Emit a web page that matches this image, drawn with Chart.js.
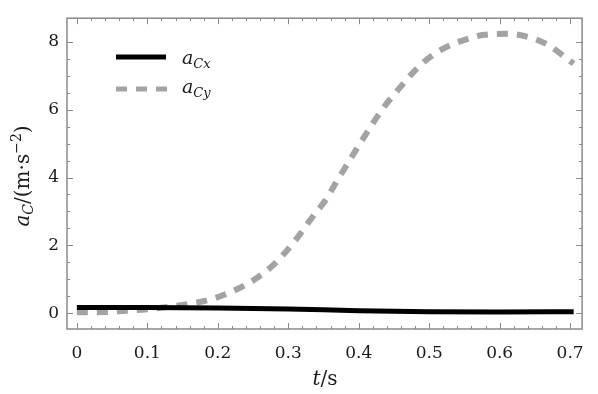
<!DOCTYPE html>
<html>
<head>
<meta charset="utf-8">
<script src="https://cdn.jsdelivr.net/npm/chart.js@4.4.0/dist/chart.umd.min.js"></script>
<style>
  html, body { margin: 0; padding: 0; background: #fff; }
  #wrap { width: 598px; height: 394px; }
</style>
</head>
<body>
<div id="wrap"><canvas id="chart" width="598" height="394"></canvas></div>
<script>
// ================== DATA ==================
const tCy = [0, 0.04, 0.07, 0.10, 0.133, 0.163, 0.193, 0.224, 0.25, 0.276, 0.296, 0.313, 0.333,
  0.354, 0.368, 0.384, 0.40, 0.416, 0.433, 0.453, 0.473, 0.494, 0.518, 0.547, 0.578, 0.61,
  0.64, 0.668, 0.695, 0.705];
const aCy = [0.03, 0.04, 0.08, 0.12, 0.2, 0.29, 0.43, 0.68, 0.97, 1.37, 1.8, 2.23, 2.8,
  3.37, 3.86, 4.4, 4.94, 5.46, 6.0, 6.51, 7.0, 7.43, 7.77, 8.03, 8.2, 8.23,
  8.14, 7.91, 7.51, 7.35];
const tCx = [0, 0.1, 0.2, 0.3, 0.4, 0.5, 0.6, 0.705];
const aCx = [0.17, 0.17, 0.16, 0.13, 0.08, 0.05, 0.04, 0.05];

const xTicks = [0, 0.1, 0.2, 0.3, 0.4, 0.5, 0.6, 0.7];
const yTicks = [0, 2, 4, 6, 8];

const FONT = "'DejaVu Serif', serif";
const FRAME = "#8a8a8a";

// ================== HELPERS ==================
function toPoints(xs, ys) {
  return xs.map((x, i) => ({ x, y: ys[i] }));
}

// draw a run of text pieces: [text, italic, size, dy]
function drawRich(ctx, parts, x, y, align) {
  let total = 0;
  parts.forEach(p => {
    ctx.font = (p[1] ? "italic " : "") + p[2] + "px " + FONT;
    total += ctx.measureText(p[0]).width;
  });
  let cx = align === "center" ? x - total / 2 : x;
  ctx.textAlign = "left";
  ctx.textBaseline = "alphabetic";
  parts.forEach(p => {
    ctx.font = (p[1] ? "italic " : "") + p[2] + "px " + FONT;
    ctx.fillText(p[0], cx, y + (p[3] || 0));
    cx += ctx.measureText(p[0]).width;
  });
}

// ================== FRAME / TICKS / TITLES / LEGEND ==================
const decor = {
  id: "decor",
  afterDatasetsDraw(chart) {
    const { ctx, chartArea: a, scales } = chart;
    const xs = scales.x, ys = scales.y;
    ctx.save();
    ctx.strokeStyle = FRAME;
    ctx.lineWidth = 1.5;
    ctx.strokeRect(a.left, a.top, a.right - a.left, a.bottom - a.top);

    ctx.lineWidth = 1;
    ctx.beginPath();
    for (let v = 0; v <= 0.7001; v += 0.02) {
      const px = Math.round(xs.getPixelForValue(v)) + 0.5;
      const major = Math.abs(v * 10 - Math.round(v * 10)) < 1e-6;
      const len = major ? 6 : 3;
      ctx.moveTo(px, a.bottom); ctx.lineTo(px, a.bottom - len);
      ctx.moveTo(px, a.top); ctx.lineTo(px, a.top + len);
    }
    for (let v = 0; v <= 8.001; v += 0.5) {
      const py = Math.round(ys.getPixelForValue(v)) + 0.5;
      const major = Math.abs(v / 2 - Math.round(v / 2)) < 1e-6;
      const len = major ? 6 : 3;
      ctx.moveTo(a.left, py); ctx.lineTo(a.left + len, py);
      ctx.moveTo(a.right, py); ctx.lineTo(a.right - len, py);
    }
    ctx.stroke();

    ctx.fillStyle = "#1a1a1a";
    // x title
    drawRich(ctx, [["t", true, 20], ["/s", false, 20]], 325, 385, "center");
    // y title
    ctx.save();
    ctx.translate(29, 176);
    ctx.rotate(-Math.PI / 2);
    drawRich(ctx, [["a", true, 20], ["C", true, 14, 4], ["/(m·s", false, 20],
      ["−2", false, 14, -8], [")", false, 20]], 0, 0, "center");
    ctx.restore();

    // legend
    ctx.lineCap = "butt";
    ctx.strokeStyle = "#000";
    ctx.lineWidth = 5;
    ctx.setLineDash([]);
    ctx.beginPath(); ctx.moveTo(116, 57); ctx.lineTo(166, 57); ctx.stroke();
    ctx.strokeStyle = "#a3a3a3";
    ctx.lineWidth = 5;
    ctx.setLineDash([11, 9]);
    ctx.beginPath(); ctx.moveTo(116, 89); ctx.lineTo(168, 89); ctx.stroke();
    ctx.setLineDash([]);
    drawRich(ctx, [["a", true, 19], ["Cx", true, 13, 4]], 182, 64, "left");
    drawRich(ctx, [["a", true, 19], ["Cy", true, 13, 4]], 182, 93, "left");
    ctx.restore();
  }
};

// ================== CHART ==================
new Chart(document.getElementById("chart"), {
  type: "line",
  data: {
    datasets: [
      {
        label: "aCx",
        data: toPoints(tCx, aCx),
        borderColor: "#000",
        borderWidth: 5,
        pointRadius: 0,
        cubicInterpolationMode: "monotone"
      },
      {
        label: "aCy",
        data: toPoints(tCy, aCy),
        borderColor: "#a3a3a3",
        borderWidth: 6,
        borderDash: [11, 9],
        pointRadius: 0,
        cubicInterpolationMode: "monotone"
      }
    ]
  },
  options: {
    responsive: false,
    animation: false,
    devicePixelRatio: 1,
    layout: { padding: { left: 0, right: 15, top: 9, bottom: 0 } },
    plugins: { legend: { display: false }, tooltip: { enabled: false } },
    scales: {
      x: {
        type: "linear",
        min: -0.014,
        max: 0.717,
        afterBuildTicks: s => { s.ticks = xTicks.map(v => ({ value: v })); },
        afterFit: s => { s.height = 65; },
        grid: { display: false, drawTicks: false },
        border: { display: false },
        ticks: {
          padding: 14,
          maxRotation: 0,
          autoSkip: false,
          color: "#1a1a1a",
          font: { family: FONT, size: 17 },
          callback: v => String(v)
        }
      },
      y: {
        type: "linear",
        min: -0.46,
        max: 8.69,
        afterBuildTicks: s => { s.ticks = yTicks.map(v => ({ value: v })); },
        afterFit: s => { s.width = 67; },
        grid: { display: false, drawTicks: false },
        border: { display: false },
        ticks: {
          padding: 8,
          color: "#1a1a1a",
          font: { family: FONT, size: 17 },
          callback: v => String(v)
        }
      }
    }
  },
  plugins: [decor]
});
</script>
</body>
</html>
